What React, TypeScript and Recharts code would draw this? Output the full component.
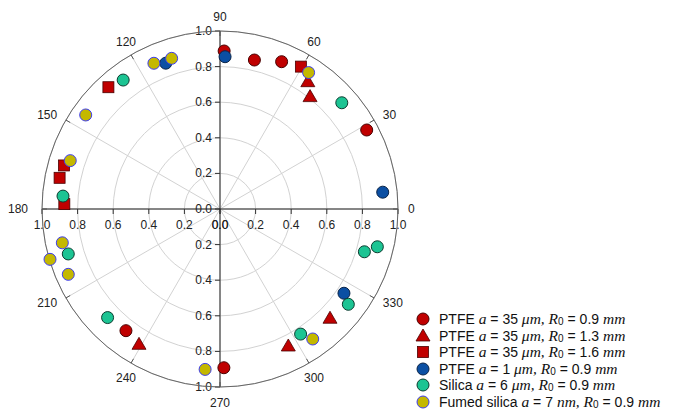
import React from 'react';
import {
  RadarChart, Radar, RadialBarChart, PolarGrid, PolarAngleAxis, PolarRadiusAxis,
  ScatterChart, Scatter, XAxis, YAxis,
} from 'recharts';

const ANGLE_TICKS = [0, 30, 60, 90, 120, 150, 180, 210, 240, 270, 300, 330];
const RADIUS_TICKS = [0, 0.2, 0.4, 0.6, 0.8, 1.0];

// [angle (deg), radius]
const ptfe35r09 = [[88.5, 0.888], [77, 0.859], [67.3, 0.897], [28.3, 0.936], [232.3, 0.864], [271.4, 0.892]];
const ptfe35r13 = [[55.4, 0.869], [51.3, 0.809], [315.2, 0.871], [296.5, 0.86], [239.1, 0.886]];
const ptfe35r16 = [[60.4, 0.92], [132.5, 0.928], [164.4, 0.91], [169, 0.918], [178.2, 0.875]];
const ptfe1r09 = [[88.1, 0.856], [110.4, 0.874], [5.9, 0.919], [325.8, 0.842]];
const silica6 = [[126.9, 0.906], [41.1, 0.908], [175.3, 0.885], [196.5, 0.889], [224, 0.878], [343.5, 0.846], [346.5, 0.909], [323.4, 0.898], [302.8, 0.836]];
const fumed7 = [[114.4, 0.899], [107.8, 0.889], [57, 0.914], [145, 0.921], [162.1, 0.884], [192.1, 0.906], [196.5, 0.996], [203.3, 0.928], [305.5, 0.897], [264.7, 0.905]];

const SERIES = [
  { id: 'p1', label: 'PTFE', a: '35', unit: 'μm', r0: '0.9', pts: ptfe35r09, kind: 'circle', fill: '#c00000', stroke: '#4a0000' },
  { id: 'p2', label: 'PTFE', a: '35', unit: 'μm', r0: '1.3', pts: ptfe35r13, kind: 'triangle', fill: '#c00000', stroke: '#4a0000' },
  { id: 'p3', label: 'PTFE', a: '35', unit: 'μm', r0: '1.6', pts: ptfe35r16, kind: 'square', fill: '#c00000', stroke: '#4a0000' },
  { id: 'p4', label: 'PTFE', a: '1', unit: 'μm', r0: '0.9', pts: ptfe1r09, kind: 'circle', fill: '#0b4fa3', stroke: '#0a2448' },
  { id: 's1', label: 'Silica', a: '6', unit: 'μm', r0: '0.9', pts: silica6, kind: 'circle', fill: '#1cc493', stroke: '#0c3d30' },
  { id: 'f1', label: 'Fumed silica', a: '7', unit: 'nm', r0: '0.9', pts: fumed7, kind: 'circle', fill: '#c4b800', stroke: '#3d3df0' },
];

const toXY = (pts: number[][]) =>
  pts.map(([deg, r]) => ({
    x: r * Math.cos((deg * Math.PI) / 180),
    y: r * Math.sin((deg * Math.PI) / 180),
  }));

const W = 678;
const H = 410;
const CX = 220;
const CY = 209;
const R = 178;
const SANS = '"Liberation Sans", Arial, sans-serif';
const SERIF = '"Liberation Serif", "DejaVu Serif", serif';
const NO_MARGIN = { top: 0, right: 0, bottom: 0, left: 0 };

const Marker = ({ kind, cx, cy, fill, stroke }: any) => {
  if (kind === 'square') {
    return <rect x={cx - 5.5} y={cy - 5.5} width={11} height={11} fill={fill} stroke={stroke} strokeWidth={0.8} />;
  }
  if (kind === 'triangle') {
    return <polygon points={`${cx},${cy - 7} ${cx + 7},${cy + 5} ${cx - 7},${cy + 5}`} fill={fill} stroke={stroke} strokeWidth={0.8} />;
  }
  return <circle cx={cx} cy={cy} r={6} fill={fill} stroke={stroke} strokeWidth={1} />;
};

const TICK = 8;

const angleTick = (p: any) => {
  const a = p.payload.value;
  const rad = (a * Math.PI) / 180;
  const c = Math.cos(rad);
  const s = Math.sin(rad);
  const x1 = p.x - c * TICK;
  const y1 = p.y + s * TICK;
  let lx = x1 + c * 10;
  let ly = y1 - s * 10;
  let anchor: any = 'middle';
  if (c > 0.6) anchor = 'start';
  else if (c < -0.6) anchor = 'end';
  else ly += s > 0 ? -4 : 6;
  if (c < -0.99) lx -= 4;
  return (
    <g>
      <line x1={x1} y1={y1} x2={x1 - c * 5} y2={y1 + s * 5} stroke="#555" />
      <text x={lx} y={ly} textAnchor={anchor} dominantBaseline="central" fontSize={12} fontFamily={SANS} fill="#222">
        {a}
      </text>
    </g>
  );
};

const leftTick = (skipZero: boolean) => (p: any) => {
  const v = p.payload.value;
  if (skipZero && v === 0) return <g />;
  return (
    <g>
      <line x1={p.x - 5} y1={p.y} x2={p.x} y2={p.y} stroke="#333" />
      <text x={p.x - 8} y={p.y} textAnchor="end" dominantBaseline="central" fontSize={12} fontFamily={SANS} fill="#222">
        {Number(v).toFixed(1)}
      </text>
    </g>
  );
};

const belowTick = (p: any) => {
  const v = p.payload.value;
  return (
    <g>
      <line x1={p.x} y1={p.y} x2={p.x} y2={p.y + 5} stroke="#333" />
      <text x={p.x} y={p.y + 16} textAnchor="middle" dominantBaseline="central" fontSize={12} fontFamily={SANS} fill="#222">
        {Number(v).toFixed(1)}
      </text>
    </g>
  );
};

const LegendBox = () => (
  <div style={{ position: 'absolute', left: 415, top: 311, fontFamily: SANS, fontSize: 14, color: '#111' }}>
    {SERIES.map((s) => (
      <div key={s.id} style={{ height: 16.5, lineHeight: '16.5px', display: 'flex', alignItems: 'center', whiteSpace: 'nowrap' }}>
        <svg width={16} height={16} style={{ marginRight: 8 }}>
          <Marker kind={s.kind} cx={8} cy={8} fill={s.fill} stroke={s.stroke} />
        </svg>
        <span>{s.label}&nbsp;</span>
        <span style={{ fontFamily: SERIF, fontStyle: 'italic', fontSize: 15.5 }}>a</span>
        <span>&nbsp;=&nbsp;{s.a}&nbsp;</span>
        <span style={{ fontFamily: SERIF, fontStyle: 'italic', fontSize: 15.5 }}>{s.unit},&nbsp;R</span>
        <span style={{ fontSize: 10, position: 'relative', top: 3 }}>0</span>
        <span>&nbsp;=&nbsp;{s.r0}&nbsp;</span>
        <span style={{ fontFamily: SERIF, fontStyle: 'italic', fontSize: 15.5 }}>mm</span>
      </div>
    ))}
  </div>
);

// helper rows for the grid charts: one category per spoke
const gridData = ANGLE_TICKS.map((a) => ({ angle: String(a), r: 0 }));

const RadiusLayer = ({ angle, tick, grid }: any) => (
  <div style={{ position: 'absolute', left: 0, top: 0 }}>
    <RadarChart width={W} height={H} cx={CX} cy={CY} innerRadius={0} outerRadius={R} margin={NO_MARGIN} data={gridData}>
      {grid && <PolarGrid gridType="circle" stroke="#d2d2d2" polarAngles={ANGLE_TICKS} />}
      <PolarAngleAxis dataKey="angle" tick={false} axisLine={false} tickLine={false} />
      <PolarRadiusAxis
        type="number"
        domain={[0, 1]}
        ticks={RADIUS_TICKS}
        tickCount={6}
        angle={angle}
        axisLine={{ stroke: '#222' }}
        tick={tick}
      />
      <Radar dataKey="r" stroke="none" fill="none" dot={false} isAnimationActive={false} />
    </RadarChart>
  </div>
);

export default function App() {
  return (
    <div style={{ position: 'fixed', left: 0, top: 0, width: W, height: H, background: '#fff', overflow: 'hidden' }}>
      <RadiusLayer angle={90} tick={leftTick(false)} grid />
      <RadiusLayer angle={270} tick={leftTick(true)} />
      <RadiusLayer angle={180} tick={belowTick} />
      <RadiusLayer angle={0} tick={belowTick} />
      {/* outer circle and angle labels (numeric angle) */}
      <div style={{ position: 'absolute', left: 0, top: 0 }}>
        <RadialBarChart
          width={W}
          height={H}
          cx={CX}
          cy={CY}
          innerRadius={0}
          outerRadius={R}
          startAngle={0}
          endAngle={360}
          margin={NO_MARGIN}
          data={[{ v: 0 }]}
        >
          <PolarAngleAxis
            type="number"
            dataKey="v"
            domain={[0, 360]}
            ticks={ANGLE_TICKS}
            axisLineType="circle"
            axisLine={{ stroke: '#666' }}
            tickSize={TICK}
            tickLine={false}
            tick={angleTick}
          />
        </RadialBarChart>
      </div>
      <div style={{ position: 'absolute', left: 0, top: 0 }}>
        <ScatterChart width={W} height={H} margin={{ top: CY - R, right: W - CX - R, bottom: H - CY - R, left: CX - R }}>
          <XAxis type="number" dataKey="x" domain={[-1, 1]} hide allowDataOverflow />
          <YAxis type="number" dataKey="y" domain={[-1, 1]} hide allowDataOverflow />
          {SERIES.map((s) => (
            <Scatter
              key={s.id}
              name={s.id}
              data={toXY(s.pts)}
              isAnimationActive={false}
              shape={(p: any) => <Marker kind={s.kind} cx={p.cx} cy={p.cy} fill={s.fill} stroke={s.stroke} />}
            />
          ))}
        </ScatterChart>
      </div>
      <LegendBox />
    </div>
  );
}
